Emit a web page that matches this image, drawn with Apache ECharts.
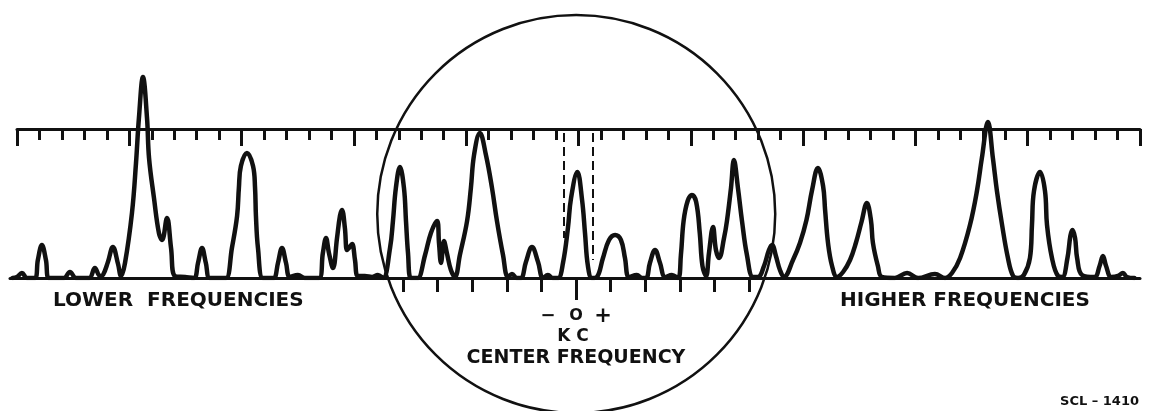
<!DOCTYPE html>
<html><head><meta charset="utf-8">
<script src="https://cdn.jsdelivr.net/npm/echarts@6/dist/echarts.min.js"></script>
<style>html,body{margin:0;padding:0;background:#fff}#c{width:1150px;height:411px}</style>
</head><body><div id="c"></div>
<script>
// Frequency in scale divisions (0..50 along the top scale), amplitude in baseline units
const lowerBand = [
  [-0.2,0],[0.0,1],[0.22,5],[0.45,0],
  [0.80,0],[0.93,18],[1.11,33],[1.29,18],[1.42,0],
  [1.83,0],[2.09,0],[2.36,6],[2.63,0],
  [3.21,0],[3.47,10],[3.70,2],
  [3.83,3],[4.05,16],[4.27,31],[4.50,14],[4.63,2],
  [4.81,15],[5.12,65],[5.30,115],[5.43,160],[5.61,201],[5.79,160],[5.88,120],[6.10,80],[6.32,45],[6.46,38],[6.68,60],[6.86,30],[7.03,2],
  [7.48,1],
  [7.88,0],[8.06,15],[8.24,30],[8.41,15],[8.59,0],
  [9.04,0],
  [9.31,0],[9.57,30],[9.80,62],[9.88,90],[9.97,112],[10.24,125],[10.51,112],[10.60,90],[10.64,62],[10.73,30],[10.95,0],
  [11.26,0],
  [11.44,0],[11.62,15],[11.80,30],[11.98,15],[12.15,1],
  [12.51,3],[12.82,0],
  [13.45,0],[13.62,25],[13.76,40],[13.89,25],[14.07,10],[14.25,40],[14.38,62],[14.47,68],[14.60,50],[14.69,28],[14.78,30],[14.92,34],[15.05,18],[15.18,2],
  [15.49,2],[15.81,1],[16.07,3]
];
const centerBand = [
  [16.30,0],[16.61,30],[16.74,57],[16.87,90],[17.05,111],[17.23,90],[17.32,57],[17.41,25],[17.54,0],
  [17.76,0],
  [17.85,0],[18.17,23],[18.43,45],[18.70,57],[18.79,35],[18.88,15],[19.01,37],[19.14,25],[19.32,8],[19.50,1],
  [19.72,23],[20.04,57],[20.21,90],[20.35,123],[20.61,145],[20.88,123],[21.15,90],[21.37,57],[21.64,23],[21.86,1],
  [22.04,4],[22.26,0],
  [22.44,0],[22.66,16],[22.93,31],[23.20,16],[23.42,0],
  [23.64,3],[23.86,0],
  [24.09,0],[24.31,15],[24.53,50],[24.67,80],[24.95,106],[25.16,78],[25.29,45],[25.42,12],[25.60,0],
  [25.82,1],[26.09,20],[26.36,38],[26.63,43],[26.89,38],[27.07,20],[27.25,1],
  [27.60,3],[27.83,0],
  [28.01,0],[28.18,15],[28.41,28],[28.63,15],[28.86,1],
  [29.16,3],
  [29.43,0],[29.56,23],[29.68,57],[29.86,77],[30.05,83],[30.24,76],[30.40,45],[30.52,12],[30.68,2],
  [30.81,25],[30.99,51],[31.12,28],[31.26,20],[31.48,40],[31.61,57],[31.79,90],[31.92,118],[32.10,90],[32.28,57],[32.50,23],[32.77,1]
];
const higherBand = [
  [32.99,1],[33.26,12],[33.48,28],[33.62,33],[33.79,22],[33.97,8],[34.15,1],
  [34.55,18],[34.86,35],[35.15,58],[35.40,88],[35.66,110],[35.89,92],[35.98,68],[36.11,35],[36.29,12],[36.51,1],
  [36.78,6],[37.09,18],[37.35,35],[37.60,56],[37.84,75],[38.02,58],[38.11,35],[38.33,12],[38.51,1],
  [39.09,0],[39.63,5],[40.12,0],[40.87,4],[41.32,0],
  [41.63,5],[41.99,20],[42.43,53],[42.74,87],[42.96,120],[43.23,156],[43.45,120],[43.63,87],[43.86,53],[44.12,20],[44.35,2],
  [44.57,0],[44.83,3],[45.10,20],[45.19,53],[45.28,87],[45.55,106],[45.77,87],[45.86,53],[46.08,20],[46.35,2],
  [46.54,1],[46.77,20],[46.90,42],[46.99,48],[47.11,40],[47.20,20],[47.42,3],
  [47.97,1],[48.20,12],[48.35,22],[48.49,12],[48.72,1],
  [49.02,2],[49.24,5],[49.42,1],[49.75,0]
];
// Scales
const topScaleMin = 0, topScaleMax = 50, topScaleMajor = 5, topScaleMinorSplit = 5;
const centerScaleMin = -5, centerScaleMax = 5, centerScaleStep = 1;
const passbandEdges = [24.35, 25.65];
const passbandTop = 145, passbandBottoms = [40, 18];
const circleCenter = [24.9, 64];
// Text
const lowerLabel = 'LOWER  FREQUENCIES';
const higherLabel = 'HIGHER FREQUENCIES';
const centerLabel = 'CENTER FREQUENCY';
const unitLabel = 'K C';
const signLabels = ['\u2212', 'O', '+'];
const figureId = 'SCL \u2013 1410';

const INK = '#111';
const chart = echarts.init(document.getElementById('c'), null, {renderer: 'canvas'});
const spectrum = lowerBand.concat(centerBand, higherBand);
const font = '"DejaVu Sans", sans-serif';

const option = {
  backgroundColor: '#fff',
  animation: false,
  grid: [
    {left: 10, right: 10, top: 68, bottom: 133, outerBoundsMode: 'none'},
    {left: 17, right: 10, top: 129, height: 1, outerBoundsMode: 'none'},
    {left: 403, width: 346, top: 277, height: 1, outerBoundsMode: 'none'},
    {left: 566, width: 20, top: 277, height: 1, outerBoundsMode: 'none'}
  ],
  xAxis: [
    {gridIndex: 0, type: 'value', min: -0.31, max: 50, position: 'bottom',
     axisLine: {show: true, onZero: false, lineStyle: {color: INK, width: 3}},
     axisTick: {show: false}, axisLabel: {show: false}, splitLine: {show: false}},
    {gridIndex: 1, type: 'value', min: topScaleMin, max: topScaleMax, interval: topScaleMajor, position: 'top',
     axisLine: {show: true, onZero: false, lineStyle: {color: INK, width: 3}},
     axisTick: {show: true, inside: true, length: 17, lineStyle: {color: INK, width: 3}},
     minorTick: {show: true, splitNumber: topScaleMinorSplit, length: 11, lineStyle: {color: INK, width: 3}},
     axisLabel: {show: false}, splitLine: {show: false}, minorSplitLine: {show: false}},
    {gridIndex: 2, type: 'value', min: centerScaleMin, max: centerScaleMax, interval: centerScaleStep, position: 'bottom',
     axisLine: {show: false, onZero: false},
     axisTick: {show: true, inside: false, length: 14, lineStyle: {color: INK, width: 3}},
     axisLabel: {show: false}, splitLine: {show: false}},
    {gridIndex: 3, type: 'category', data: [''], position: 'bottom', boundaryGap: true,
     axisLine: {show: false, onZero: false},
     axisTick: {show: true, alignWithLabel: true, length: 22, lineStyle: {color: INK, width: 3}},
     axisLabel: {show: false}, splitLine: {show: false}}
  ],
  yAxis: [
    {gridIndex: 0, type: 'value', min: 0, max: 210, show: false},
    {gridIndex: 1, type: 'value', min: 0, max: 1, show: false},
    {gridIndex: 2, type: 'value', min: 0, max: 1, show: false},
    {gridIndex: 3, type: 'value', min: 0, max: 1, show: false}
  ],
  series: [{
    type: 'line', xAxisIndex: 0, yAxisIndex: 0, data: spectrum,
    smooth: 0.4, symbol: 'none', clip: true,
    lineStyle: {color: INK, width: 4.5, cap: 'round', join: 'round'},
    emphasis: {disabled: true}, silent: true,
    markLine: {
      silent: true, symbol: 'none', animation: false,
      label: {show: false},
      lineStyle: {color: INK, width: 2, type: [9, 5]},
      data: passbandEdges.map((x, i) => [{coord: [x, passbandTop]}, {coord: [x, passbandBottoms[i]]}])
    }
  }]
};
chart.setOption(option);

const c = chart.convertToPixel({gridIndex: 0}, circleCenter);
const uPx = chart.convertToPixel({gridIndex: 0}, [1, 0])[0] - chart.convertToPixel({gridIndex: 0}, [0, 0])[0];
const r = 8.86 * uPx;
const txt = (text, x, y, size, align, weight) => ({
  type: 'text', x: x, y: y, silent: true,
  style: {text: text, font: (weight || 'bold') + ' ' + size + 'px ' + font, fill: INK, align: align || 'center', verticalAlign: 'middle'}
});
chart.setOption({
  graphic: [
    {type: 'circle', shape: {cx: c[0], cy: c[1], r: r}, silent: true,
     style: {fill: 'none', stroke: INK, lineWidth: 2.5}},
    txt(lowerLabel, 53, 301, 20, 'left'),
    txt(higherLabel, 840, 301, 20, 'left'),
    txt(signLabels[0], 548, 316, 18),
    txt(signLabels[1], 576, 316, 16),
    txt(signLabels[2], 603, 317, 21),
    txt(unitLabel, 573, 337, 17),
    txt(centerLabel, 576, 358, 19),
    txt(figureId, 1139, 402, 13, 'right')
  ]
});
</script>
</body></html>
